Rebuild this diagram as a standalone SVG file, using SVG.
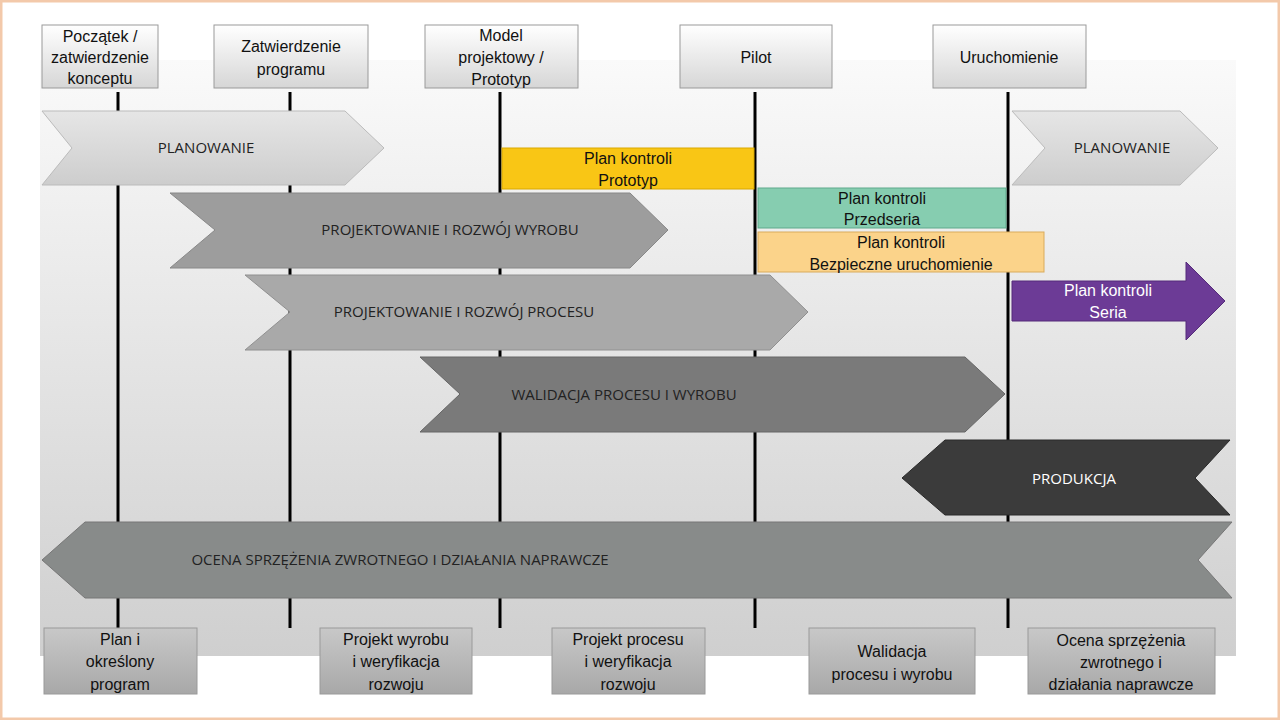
<svg xmlns="http://www.w3.org/2000/svg" width="1280" height="720" viewBox="0 0 1280 720">
<defs>
<linearGradient id="bg" x1="0" y1="0" x2="0" y2="1"><stop offset="0" stop-color="#fafafa"/><stop offset="1" stop-color="#cfcfcf"/></linearGradient>
<linearGradient id="box" x1="0" y1="0" x2="0" y2="1"><stop offset="0" stop-color="#ffffff"/><stop offset="1" stop-color="#d6d6d6"/></linearGradient>
<linearGradient id="bbox" x1="0" y1="0" x2="0" y2="1"><stop offset="0" stop-color="#c8c8c8"/><stop offset="1" stop-color="#a8a8a8"/></linearGradient>
<linearGradient id="light" x1="0" y1="0" x2="0" y2="1"><stop offset="0" stop-color="#e6e6e6"/><stop offset="1" stop-color="#cdcdcd"/></linearGradient>
</defs>
<style>
.b{stroke:#9a9a9a;stroke-width:1}
.t{font-family:"Liberation Sans",Arial,sans-serif;font-size:16px;fill:#111;text-anchor:middle}
.c{font-family:"Open Sans","Liberation Sans",sans-serif;font-size:15px;fill:#222;text-anchor:middle}
.l{stroke:#000;stroke-width:3}
</style>
<rect x="1" y="1" width="1278" height="718" fill="#fff" stroke="#f3c9aa" stroke-width="3"/>
<rect x="40" y="60" width="1196" height="596" fill="url(#bg)"/>
<g id="connectors">
<line class="l" x1="118" y1="92" x2="118" y2="628"/>
<line class="l" x1="290" y1="92" x2="290" y2="628"/>
<line class="l" x1="500" y1="92" x2="500" y2="628"/>
<line class="l" x1="755" y1="92" x2="755" y2="628"/>
<line class="l" x1="1008" y1="92" x2="1008" y2="628"/>
</g>
<g id="m1"><rect class="b" x="42" y="25" width="116" height="63" fill="url(#box)"/><text class="t" x="100" y="42">Początek /</text><text class="t" x="100" y="63">zatwierdzenie</text><text class="t" x="100" y="84">konceptu</text></g>
<g id="m2"><rect class="b" x="214" y="25" width="154" height="63" fill="url(#box)"/><text class="t" x="291" y="52">Zatwierdzenie</text><text class="t" x="291" y="75">programu</text></g>
<g id="m3"><rect class="b" x="425" y="25" width="153" height="63" fill="url(#box)"/><text class="t" x="501" y="41">Model</text><text class="t" x="501" y="63">projektowy  /</text><text class="t" x="501" y="85">Prototyp</text></g>
<g id="m4"><rect class="b" x="680" y="25" width="152" height="63" fill="url(#box)"/><text class="t" x="756" y="63">Pilot</text></g>
<g id="m5"><rect class="b" x="933" y="25" width="153" height="63" fill="url(#box)"/><text class="t" x="1009" y="63">Uruchomienie</text></g>

<g id="plan1"><polygon points="42,111 345,111 384,148 345,185 42,185 72,148" fill="url(#light)" stroke="#bbb"/><text class="c" x="206" y="153">PLANOWANIE</text></g>
<g id="yellow"><rect x="502" y="148" width="252" height="41" fill="#f9c615" stroke="#d9a800"/><text class="t" x="628" y="164">Plan kontroli</text><text class="t" x="628" y="186">Prototyp</text></g>
<g id="pw"><polygon points="170,193 630,193 668,230 630,268 170,268 215,230" fill="#9d9d9d" stroke="#888"/><text class="c" x="450" y="235">PROJEKTOWANIE I ROZWÓJ WYROBU</text></g>
<g id="green"><rect x="758" y="188" width="248" height="40" fill="#86cdb0" stroke="#5fa98c"/><text class="t" x="882" y="204">Plan kontroli</text><text class="t" x="882" y="225">Przedseria</text></g>
<g id="orange"><rect x="758" y="232" width="286" height="40" fill="#fbd38a" stroke="#d9ab5c"/><text class="t" x="901" y="248">Plan kontroli</text><text class="t" x="901" y="270">Bezpieczne uruchomienie</text></g>
<g id="pp"><polygon points="245,275 770,275 808,312 770,350 245,350 290,312" fill="#a9a9a9" stroke="#909090"/><text class="c" x="464" y="317">PROJEKTOWANIE I ROZWÓJ PROCESU</text></g>
<g id="purple"><polygon points="1012,281 1186,281 1186,262 1225,301 1186,340 1186,321 1012,321" fill="#6c3b96" stroke="#552b7a"/><text class="t" x="1108" y="296" fill="#fff" style="fill:#fff">Plan kontroli</text><text class="t" x="1108" y="318" style="fill:#fff">Seria</text></g>
<g id="wal"><polygon points="420,357 965,357 1005,394 965,432 420,432 460,394" fill="#7a7a7a" stroke="#666"/><text class="c" x="624" y="400">WALIDACJA PROCESU I WYROBU</text></g>
<g id="plan2"><polygon points="1012,111 1180,111 1218,148 1180,185 1012,185 1045,148" fill="url(#light)" stroke="#bbb"/><text class="c" x="1122" y="153">PLANOWANIE</text></g>
<g id="prod"><polygon points="945,440 1230,440 1195,478 1230,515 945,515 902,478" fill="#3b3b3b" stroke="#2a2a2a"/><text class="c" x="1074" y="484" style="fill:#fff">PRODUKCJA</text></g>
<g id="ocena"><polygon points="85,522 1232,522 1198,560 1232,598 85,598 42,560" fill="#888b8a" stroke="#777"/><text class="c" x="400" y="565">OCENA SPRZĘŻENIA ZWROTNEGO I DZIAŁANIA NAPRAWCZE</text></g>

<g id="s1"><rect class="b" x="44" y="628" width="153" height="66" fill="url(#bbox)"/><text class="t" x="120" y="645">Plan i</text><text class="t" x="120" y="667">określony</text><text class="t" x="120" y="690">program</text></g>
<g id="s2"><rect class="b" x="320" y="628" width="152" height="66" fill="url(#bbox)"/><text class="t" x="396" y="645">Projekt wyrobu</text><text class="t" x="396" y="667">i weryfikacja</text><text class="t" x="396" y="690">rozwoju</text></g>
<g id="s3"><rect class="b" x="552" y="628" width="153" height="66" fill="url(#bbox)"/><text class="t" x="628" y="645">Projekt procesu</text><text class="t" x="628" y="667">i weryfikacja</text><text class="t" x="628" y="690">rozwoju</text></g>
<g id="s4"><rect class="b" x="809" y="628" width="166" height="66" fill="url(#bbox)"/><text class="t" x="892" y="657">Walidacja</text><text class="t" x="892" y="680">procesu i wyrobu</text></g>
<g id="s5"><rect class="b" x="1028" y="628" width="187" height="66" fill="url(#bbox)"/><text class="t" x="1121" y="646">Ocena sprzężenia</text><text class="t" x="1121" y="668">zwrotnego i</text><text class="t" x="1121" y="690">działania naprawcze</text></g>
</svg>
